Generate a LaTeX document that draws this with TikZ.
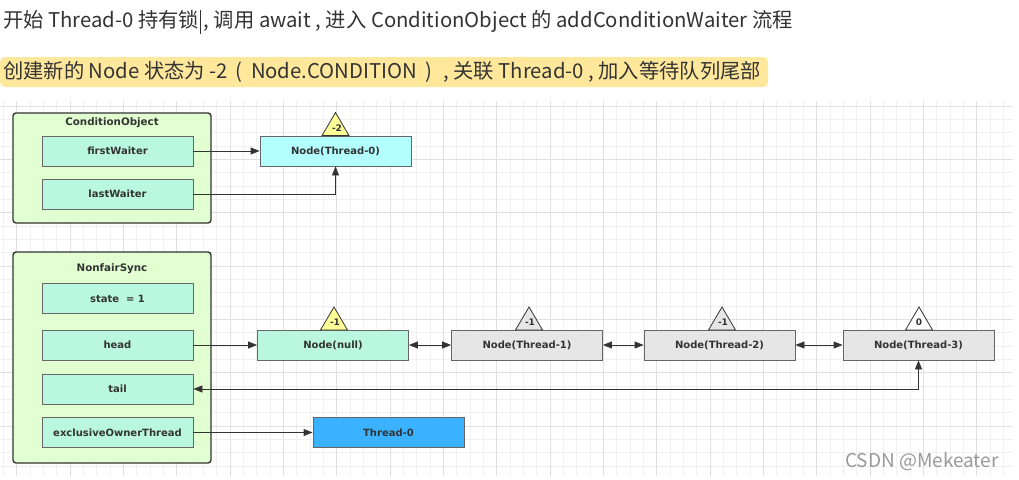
\documentclass[tikz,border=0pt]{standalone}
\usepackage{fontspec}
\setmainfont{Noto Sans CJK SC}
\newfontfamily\df{DejaVu Sans}
\usetikzlibrary{arrows.meta}
\definecolor{gridminor}{HTML}{F0F0F0}
\definecolor{gridmajor}{HTML}{E0E0E0}
\definecolor{contfill}{HTML}{E2FFD2}
\definecolor{mint}{HTML}{B9F7E1}
\definecolor{cyanfill}{HTML}{B3FFFF}
\definecolor{grayfill}{HTML}{E6E6E6}
\definecolor{bluefill}{HTML}{3BB2FF}
\definecolor{triyellow}{HTML}{FFFF99}
\definecolor{hl}{HTML}{FFE89C}
\definecolor{txt}{HTML}{333333}
\definecolor{edge}{HTML}{666666}
\tikzset{
  container/.style={draw=txt, line width=1.4pt, rounded corners=3pt, fill=contfill},
  field/.style={draw=edge, line width=0.8pt, fill=mint, minimum width=151pt, minimum height=30pt, inner sep=0pt, font=\df\bfseries\fontsize{10}{12}\selectfont, text=txt},
  qnode/.style={draw=edge, line width=0.8pt, minimum width=151pt, minimum height=30pt, inner sep=0pt, font=\df\bfseries\fontsize{10}{12}\selectfont, text=txt},
  ctitle/.style={font=\df\bfseries\fontsize{10.3}{12}\selectfont, text=txt, inner sep=0pt},
  trilabel/.style={font=\df\bfseries\fontsize{9}{11}\selectfont, text=txt, inner sep=0pt},
  headtext/.style={anchor=west, inner sep=0pt, text=txt, font=\fontsize{20.3}{24}\selectfont},
  conn/.style={draw=txt, line width=0.8pt, -{Triangle[length=9pt,width=7pt]}},
  dconn/.style={draw=txt, line width=0.8pt, {Triangle[length=9pt,width=7pt]}-{Triangle[length=9pt,width=7pt]}},
}
\begin{document}
\begin{tikzpicture}[x=1pt,y=-1pt]
\useasboundingbox (0,0) rectangle (1019,479);
\fill[white] (0,0) rectangle (1019,479);
% grid
\foreach \k in {0,...,75} {
  \pgfmathsetmacro\xx{3.333+13.333*\k}
  \draw[gridminor, line width=0.8pt] (\xx,101) -- (\xx,476);
}
\foreach \k in {0,...,27} {
  \pgfmathsetmacro\yy{106+13.333*\k}
  \draw[gridminor, line width=0.8pt] (0,\yy) -- (1013,\yy);
}
\foreach \k in {1,5,...,73} {
  \pgfmathsetmacro\xx{3.333+13.333*\k}
  \draw[gridmajor, line width=0.8pt] (\xx,101) -- (\xx,476);
}
\foreach \k in {0,4,...,24} {
  \pgfmathsetmacro\yy{106+13.333*\k}
  \draw[gridmajor, line width=0.8pt] (0,\yy) -- (1013,\yy);
}
% header text
\node[headtext] (line1) at (3,22)
  {开始 Thread-0 持有锁\rlap{\kern0.5pt\rule[-0.28em]{0.8pt}{1.15em}} , 调用 await , 进入 ConditionObject 的 addConditionWaiter 流程};
\fill[hl, rounded corners=5pt] (0,57) rectangle (768,87);
\node[headtext] (line2) at (3,72)
  {创建新的 Node 状态为 -2\hspace{3pt} (\hspace{4pt} Node.CONDITION\hspace{4pt} )\hspace{6pt} , 关联 Thread-0 , 加入等待队列尾部};
% ConditionObject
\node[container, minimum width=198pt, minimum height=110pt, inner sep=0pt] (co) at (112,168) {};
\node[ctitle] (cot) at (112,123) {ConditionObject};
\node[field] (fw) at (117.5,151) {firstWaiter};
\node[field] (lw) at (117.5,194) {lastWaiter};
\node[qnode, fill=cyanfill] (nt0) at (335.5,151) {Node(Thread-0)};
\draw[draw=txt, fill=triyellow, line width=0.8pt] (nt0.north) ++(-13.5,0) -- ++(13.5,-23) -- ++(13.5,23) -- cycle;
\node[trilabel] (w0) at (337,128) {-2};
\draw[conn] (fw) -- (nt0);
\draw[conn] (lw.east) -| (nt0.south);
% NonfairSync
\node[container, minimum width=198pt, minimum height=211pt, inner sep=0pt] (ns) at (112,357.5) {};
\node[ctitle] (nst) at (112,269) {NonfairSync};
\node[field] (st) at (117.5,298.5) {state \ = 1};
\node[field] (hd) at (117.5,345) {head};
\node[field] (tl) at (117.5,389) {tail};
\node[field] (eo) at (117.5,432.5) {exclusiveOwnerThread};
\node[qnode, fill=bluefill] (th0) at (388.5,432.5) {Thread-0};
% queue
\node[qnode, fill=mint] (nn) at (333,345) {Node(null)};
\node[qnode, fill=grayfill] (n1) at (527,345) {Node(Thread-1)};
\node[qnode, fill=grayfill] (n2) at (719.5,345) {Node(Thread-2)};
\node[qnode, fill=grayfill] (n3) at (918.5,345) {Node(Thread-3)};
\draw[draw=txt, fill=triyellow, line width=0.8pt] (334,330) ++(-13.5,0) -- ++(13.5,-23) -- ++(13.5,23) -- cycle;
\node[trilabel] (wn) at (335,322) {-1};
\draw[draw=txt, fill=grayfill, line width=0.8pt] (529,330) ++(-13.5,0) -- ++(13.5,-23) -- ++(13.5,23) -- cycle;
\node[trilabel] (w1) at (530,322) {-1};
\draw[draw=txt, fill=grayfill, line width=0.8pt] (722,330) ++(-13.5,0) -- ++(13.5,-23) -- ++(13.5,23) -- cycle;
\node[trilabel] (w2) at (723,322) {-1};
\draw[draw=txt, fill=white, line width=0.8pt] (919,330) ++(-13.5,0) -- ++(13.5,-23) -- ++(13.5,23) -- cycle;
\node[trilabel] (w3) at (919,322) {0};
\draw[conn] (hd) -- (nn);
\draw[dconn] (nn) -- (n1);
\draw[dconn] (n1) -- (n2);
\draw[dconn] (n2) -- (n3);
\draw[dconn] (tl.east) -| (n3.south);
\draw[conn] (eo) -- (th0);
% watermark
\node[anchor=west, inner sep=0pt, text=black!40, font=\fontsize{19}{22}\selectfont] (csdn) at (845,462) {CSDN @Mekeater};
\end{tikzpicture}
\end{document}
